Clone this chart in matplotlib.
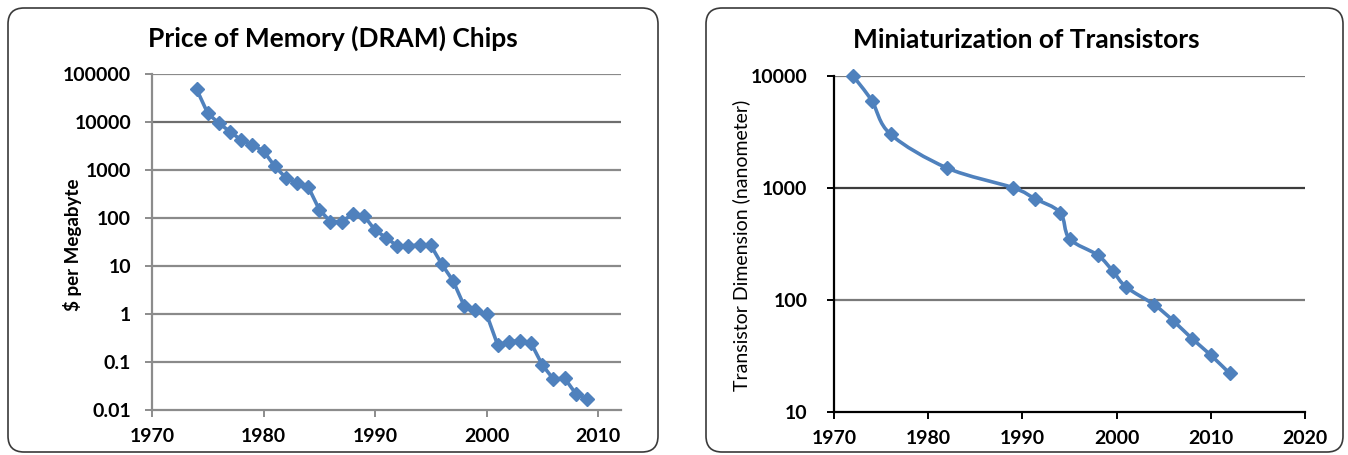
import numpy as np
import matplotlib
matplotlib.use("Agg")
import matplotlib.pyplot as plt
from matplotlib.patches import FancyBboxPatch, PathPatch
from matplotlib.path import Path
from matplotlib.ticker import FixedLocator, FixedFormatter, NullLocator

plt.rcParams['font.family'] = ['Lato', 'DejaVu Sans']

# ---- DRAM price per megabyte ----
dram_years = list(range(1974, 2010))
dram_price = [48000, 15200, 9400, 6300, 4200, 3300, 2500, 1200, 690, 530,
              450, 150, 84, 84, 120, 112, 56, 39, 26, 26,
              27.5, 27, 10.8, 4.9, 1.47, 1.21, 1.0, 0.226, 0.265, 0.278,
              0.245, 0.087, 0.044, 0.046, 0.022, 0.017]
dram_yticks = [0.01, 0.1, 1, 10, 100, 1000, 10000, 100000]
dram_ylabels = ["0.01", "0.1", "1", "10", "100", "1000", "10000", "100000"]
dram_xticks = [1970, 1980, 1990, 2000, 2010]

# ---- transistor feature size ----
tr_years = [1972, 1974, 1976, 1982, 1989, 1991.3, 1994, 1995, 1998, 1999.6,
            2001, 2004, 2006, 2008, 2010, 2012]
tr_nm = [10000, 6000, 3000, 1500, 1000, 800, 600, 350, 250, 180,
         130, 90, 65, 45, 32, 22]
tr_yticks = [10, 100, 1000, 10000]
tr_ylabels = ["10", "100", "1000", "10000"]
tr_xticks = [1970, 1980, 1990, 2000, 2010, 2020]

BLUE = "#4F81BD"
W, H = 1348, 455
fig = plt.figure(figsize=(W / 100, H / 100), dpi=100)

# background layer in pixel units for the rounded chart frames
bg = fig.add_axes([0, 0, 1, 1], zorder=-5)
bg.set_xlim(0, W)
bg.set_ylim(H, 0)
bg.axis("off")
for x0, x1 in [(8, 658), (706, 1343)]:
    bg.add_patch(FancyBboxPatch((x0, 8), x1 - x0, 444,
                                boxstyle="round,pad=0,rounding_size=16",
                                fc="white", ec="#3a3a3a", lw=1.2))


def px_axes(x0, x1, ytop, ybot):
    return fig.add_axes([x0 / W, 1 - ybot / H, (x1 - x0) / W, (ybot - ytop) / H])


def smooth_path(xs, ys):
    # Catmull-Rom style Bezier segments in (x, log10 y) space
    lx = np.asarray(xs, float)
    ly = np.log10(np.asarray(ys, float))
    P = np.column_stack([lx, ly])
    n = len(P)
    verts = [P[0]]
    codes = [Path.MOVETO]
    for i in range(n - 1):
        p0 = P[i - 1] if i > 0 else P[i]
        p1 = P[i]
        p2 = P[i + 1]
        p3 = P[i + 2] if i + 2 < n else P[i + 1]
        c1 = p1 + (p2 - p0) / 6.0
        c2 = p2 - (p3 - p1) / 6.0
        verts += [c1, c2, p2]
        codes += [Path.CURVE4] * 3
    V = np.array(verts)
    V[:, 1] = 10 ** V[:, 1]
    return Path(V, codes)


TICK_SIZE = 14

# ---------------- left chart ----------------
ax1 = px_axes(152, 621, 74, 410)
ax1.set_yscale("log")
ax1.set_xlim(1970, 2012.06)
ax1.set_ylim(0.01, 100000)
ax1.plot(dram_years, dram_price, color=BLUE, lw=2.6, marker="D", ms=7.5,
         mfc=BLUE, mec=BLUE, clip_on=False, zorder=3)
ax1.yaxis.set_major_locator(FixedLocator(dram_yticks))
ax1.yaxis.set_major_formatter(FixedFormatter(dram_ylabels))
ax1.yaxis.set_minor_locator(NullLocator())
ax1.set_xticks(dram_xticks)
ax1.set_xticklabels([str(v) for v in dram_xticks])
for v in dram_yticks[1:]:
    ax1.axhline(v, color="#6e6e6e" if v == 10000 else "#8a8a8a",
                lw=1.6, zorder=1)
for s in ["top", "right"]:
    ax1.spines[s].set_visible(False)
for s in ["left", "bottom"]:
    ax1.spines[s].set_color("#8c8c8c")
    ax1.spines[s].set_linewidth(1.6)
ax1.tick_params(axis="both", which="major", direction="out", length=5,
                width=1.4, color="#8c8c8c", labelsize=TICK_SIZE)
ax1.tick_params(axis="y", pad=10)
ax1.tick_params(axis="x", pad=8)
for lab in ax1.get_xticklabels() + ax1.get_yticklabels():
    lab.set_fontweight("bold")
fig.text(333 / W, 1 - 38 / H, "Price of Memory (DRAM) Chips", ha="center",
         va="center", fontsize=19, fontweight="bold")
fig.text(72 / W, 1 - 245 / H, "$ per Megabyte", ha="center", va="center",
         rotation=90, fontsize=13.5, fontweight="bold")

# ---------------- right chart ----------------
ax2 = px_axes(834, 1305, 75.7, 411.7)
ax2.set_yscale("log")
ax2.set_xlim(1970, 2020)
ax2.set_ylim(10, 10000)
ax2.add_patch(PathPatch(smooth_path(tr_years, tr_nm), fill=False,
                        ec=BLUE, lw=2.6, zorder=3, clip_on=False))
ax2.plot(tr_years, tr_nm, ls="none", marker="D", ms=7.5, mfc=BLUE, mec=BLUE,
         clip_on=False, zorder=4)
ax2.yaxis.set_major_locator(FixedLocator(tr_yticks))
ax2.yaxis.set_major_formatter(FixedFormatter(tr_ylabels))
ax2.yaxis.set_minor_locator(NullLocator())
ax2.set_xticks(tr_xticks)
ax2.set_xticklabels([str(v) for v in tr_xticks])
for v in tr_yticks[1:]:
    ax2.axhline(v, color="#3c3c3c" if v == 1000 else "#7a7a7a",
                lw=1.6, zorder=1)
for s in ["top", "right"]:
    ax2.spines[s].set_visible(False)
for s in ["left", "bottom"]:
    ax2.spines[s].set_color("black")
    ax2.spines[s].set_linewidth(1.6)
ax2.tick_params(axis="both", which="major", direction="out", length=5,
                width=1.4, color="black", labelsize=TICK_SIZE)
ax2.tick_params(axis="y", pad=14)
ax2.tick_params(axis="x", pad=8)
for lab in ax2.get_xticklabels() + ax2.get_yticklabels():
    lab.set_fontweight("bold")
fig.text(1026 / W, 1 - 40 / H, "Miniaturization of Transistors", ha="center",
         va="center", fontsize=19, fontweight="bold")
fig.text(741 / W, 1 - 245 / H, "Transistor Dimension (nanometer)",
         ha="center", va="center", rotation=90, fontsize=14)

fig.savefig("out.png", dpi=100)
